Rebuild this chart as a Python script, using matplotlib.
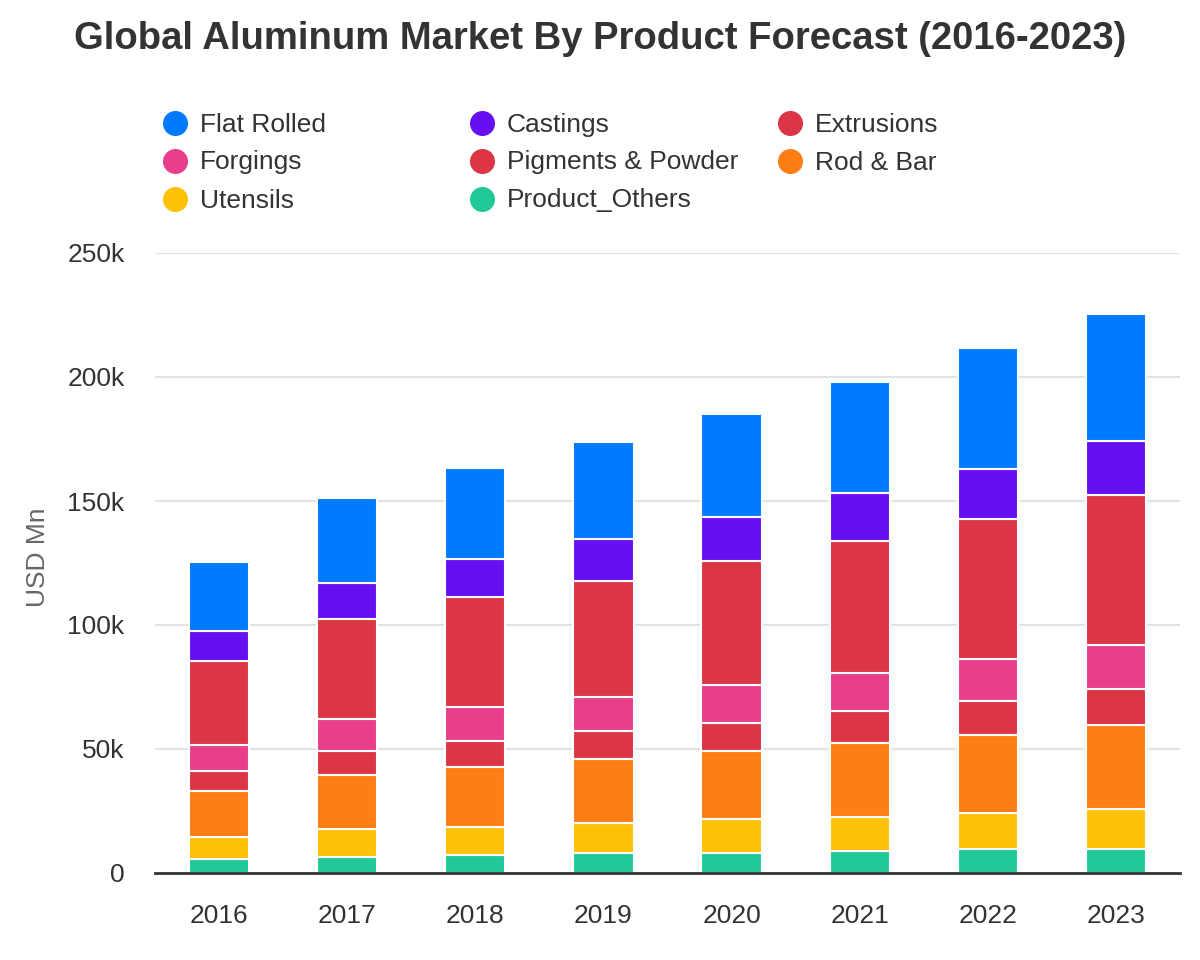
import matplotlib
matplotlib.use("Agg")
import matplotlib.pyplot as plt
from matplotlib.lines import Line2D
from matplotlib.patches import FancyBboxPatch
from matplotlib.ticker import FuncFormatter, MultipleLocator

plt.rcParams['font.family'] = ['Liberation Sans', 'DejaVu Sans']

years = ["2016", "2017", "2018", "2019", "2020", "2021", "2022", "2023"]

# values in USD Mn (thousands), bottom to top of stack
product_others = [5.6, 6.5, 7.3, 8.1, 8.1, 8.9, 9.6, 9.6]
utensils = [8.9, 11.2, 11.2, 12.1, 13.7, 13.7, 14.4, 16.1]
rod_bar = [18.6, 21.8, 24.2, 25.8, 27.4, 29.8, 31.5, 33.9]
pigments_powder = [8.0, 9.7, 10.5, 11.3, 11.3, 12.9, 13.8, 14.6]
forgings = [10.5, 12.9, 13.7, 13.7, 15.3, 15.3, 17.0, 17.7]
extrusions = [33.9, 40.3, 44.4, 46.7, 50.0, 53.3, 56.4, 60.5]
castings = [12.1, 14.5, 15.3, 17.0, 17.7, 19.3, 20.1, 21.8]
flat_rolled = [27.8, 34.3, 36.7, 39.1, 41.6, 44.8, 48.8, 51.2]

series = [
    ("Product_Others", product_others, "#20c997"),
    ("Utensils", utensils, "#ffc107"),
    ("Rod & Bar", rod_bar, "#fd7e14"),
    ("Pigments & Powder", pigments_powder, "#dc3545"),
    ("Forgings", forgings, "#e83e8c"),
    ("Extrusions", extrusions, "#dc3545"),
    ("Castings", castings, "#6610f2"),
    ("Flat Rolled", flat_rolled, "#007bff"),
]
colors = {name: c for name, _, c in series}

legend_rows = [
    ["Flat Rolled", "Castings", "Extrusions"],
    ["Forgings", "Pigments & Powder", "Rod & Bar"],
    ["Utensils", "Product_Others"],
]

fig = plt.figure(figsize=(12, 9.6), dpi=100)
ax = fig.add_axes([155/1200, 1-873/960, (1180-155)/1200, (873-253)/960])
ax.set_xlim(-0.5, 7.5)
ax.set_ylim(0, 250000)

x = list(range(len(years)))
bottom = [0.0] * len(years)
bars = None
for name, vals, color in series:
    v = [val * 1000 for val in vals]
    bars = ax.bar(x, v, bottom=bottom, width=0.47, color=color, edgecolor="white",
                  linewidth=1.5, zorder=3)
    bottom = [b + val for b, val in zip(bottom, v)]

# rounded top corners on the top segment
px_x = 8.0 / 1025  # data units per pixel in x
px_y = 250000 / 620  # data units per pixel in y
r = 6 * px_x
asp = px_y / px_x
for p in bars:
    x0, y0 = p.get_x(), p.get_y()
    w, h = p.get_width(), p.get_height()
    clip = FancyBboxPatch((x0 - 1 * px_x, y0 - h), w + 2 * px_x, 2 * h + 1 * px_y,
                          boxstyle=f"round,pad=0,rounding_size={r}",
                          mutation_aspect=asp, transform=ax.transData)
    p.set_clip_path(clip)

ax.yaxis.set_major_locator(MultipleLocator(50000))
ax.yaxis.set_major_formatter(FuncFormatter(lambda v, p: "0" if v == 0 else f"{int(v/1000)}k"))
ax.set_xticks(x)
ax.set_xticklabels(years)
ax.tick_params(axis="both", length=0, labelsize=19, labelcolor="#333333")
ax.tick_params(axis="y", pad=22)
ax.tick_params(axis="x", pad=22)
ax.grid(axis="y", color="#e3e3e3", linewidth=1.5, zorder=0)
ax.set_axisbelow(True)
for s in ["top", "right", "left"]:
    ax.spines[s].set_visible(False)
ax.spines["bottom"].set_color("#333333")
ax.spines["bottom"].set_linewidth(2)
ax.spines["bottom"].set_zorder(4)

ax.set_ylabel("USD Mn", fontsize=19, color="#666666")
ax.yaxis.set_label_coords((50 - 155) / 1025, (873 - 557) / 620)

fig.text(0.5, 1-39/960, "Global Aluminum Market By Product Forecast (2016-2023)",
         ha="center", va="center", fontsize=27.5, fontweight="bold", color="#333333")

col_x = [175, 482, 790]
row_y = [123, 161, 199]
for r_i, row in enumerate(legend_rows):
    for c, name in enumerate(row):
        xf = col_x[c] / 1200
        yf = 1 - row_y[r_i] / 960
        fig.add_artist(Line2D([xf], [yf], marker="o", markersize=17, color=colors[name],
                              linestyle="none", transform=fig.transFigure))
        fig.text((col_x[c] + 25) / 1200, yf - 1.5 / 960, name, ha="left", va="center",
                 fontsize=19, color="#333333")

fig.savefig("out.png", dpi=100, facecolor="white")
